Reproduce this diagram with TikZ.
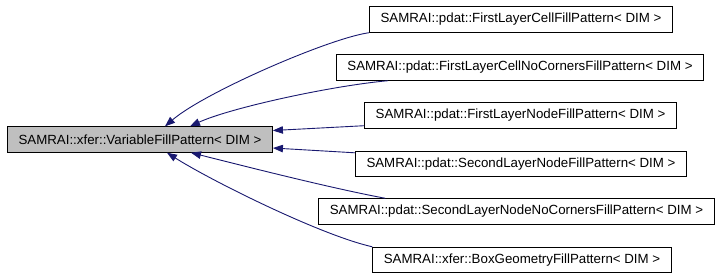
\documentclass[tikz,border=0pt]{standalone}
\usepackage{fontspec}
\setmainfont{Liberation Sans}
\usetikzlibrary{arrows.meta}
\definecolor{edgeblue}{HTML}{191970}
\begin{document}
\begin{tikzpicture}[x=1pt,y=-1pt,
    cls/.style={draw,inner xsep=11pt,inner ysep=0pt,minimum height=25.5pt,
      font=\fontsize{13.3}{16}\selectfont,line width=0.9pt},
    inh/.style={color=edgeblue,line width=0.9pt,-{Triangle[length=10pt,width=7.5pt]}}]
    \useasboundingbox (0,0) rectangle (725,277);
    % base class
    \node(vfp) at (140,139.5) [cls,fill=black!25] {SAMRAI::xfer::VariableFillPattern< DIM >};
    % derived classes
    \node(flc) at (521,19.5) [cls] {SAMRAI::pdat::FirstLayerCellFillPattern< DIM >};
    \node(flcnc) at (520,67.5) [cls] {SAMRAI::pdat::FirstLayerCellNoCornersFillPattern< DIM >};
    \node(fln) at (520.5,115.5) [cls] {SAMRAI::pdat::FirstLayerNodeFillPattern< DIM >};
    \node(sln) at (521,164) [cls] {SAMRAI::pdat::SecondLayerNodeFillPattern< DIM >};
    \node(slnnc) at (516.5,211.5) [cls] {SAMRAI::pdat::SecondLayerNodeNoCornersFillPattern< DIM >};
    \node(bgf) at (522,260) [cls] {SAMRAI::xfer::BoxGeometryFillPattern< DIM >};

    \draw[inh] (flc.south west) .. controls (330,38) and (205,92) .. ([xshift=25pt]vfp.north);
    \draw[inh] ([xshift=52pt]flcnc.south west) .. controls (330,86) and (230,108) .. ([xshift=50pt]vfp.north);
    \draw[inh] ([yshift=3pt]fln.south west) -- ([yshift=9pt]vfp.east);
    \draw[inh] ([yshift=-2pt]sln.north west) -- ([yshift=-8.5pt]vfp.east);
    \draw[inh] ([xshift=67pt]slnnc.north west) .. controls (330,188) and (240,165) .. ([xshift=51pt]vfp.south);
    \draw[inh] (bgf.north west) .. controls (320,235) and (210,180) .. ([xshift=27pt]vfp.south);
\end{tikzpicture}
\end{document}
